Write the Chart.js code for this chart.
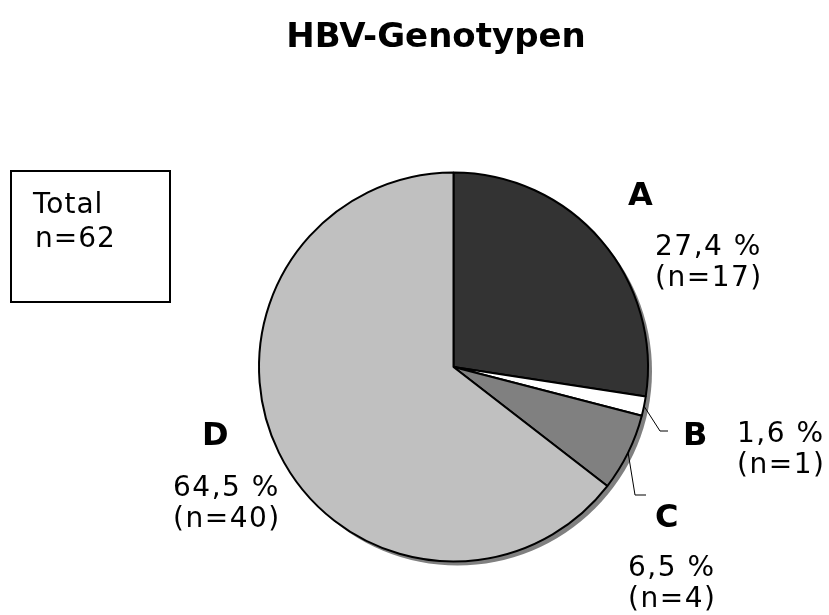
<!DOCTYPE html>
<html>
<head>
<meta charset="utf-8">
<script src="https://cdn.jsdelivr.net/npm/chart.js@4"></script>
<style>
  body { margin: 0; background: #fff; }
  #wrap { width: 829px; height: 615px; }
</style>
</head>
<body>
<div id="wrap"><canvas id="genoChart"></canvas></div>
<script>
// --- Data ---
const genotypes = ['A', 'B', 'C', 'D'];
const counts = [17, 1, 4, 40];
const percents = ['27,4 %', '1,6 %', '6,5 %', '64,5 %'];
const countLabels = ['(n=17)', '(n=1)', '(n=4)', '(n=40)'];
const sliceColors = ['#333333', '#ffffff', '#808080', '#c0c0c0'];
const totalLines = ['Total', 'n=62'];

// label placement (pixels): letter, text block, leader line end (null = no leader)
const labelPos = [
    { letter: [628, 205], text: [655, 255], leader: null },
    { letter: [683, 445], text: [737, 442], leader: [[660, 431], [668, 431]] },
    { letter: [655, 527], text: [628, 576], leader: [[635, 495], [646, 495]] },
    { letter: [202, 445], text: [173, 496], leader: null }
];

const font = 'DejaVu Sans';

// shadow under the pie
const shadowPlugin = {
    id: 'pieShadow',
    beforeDatasetsDraw(chart) {
        const arc = chart.getDatasetMeta(0).data[0];
        const ctx = chart.ctx;
        ctx.save();
        ctx.fillStyle = '#808080';
        ctx.beginPath();
        ctx.arc(arc.x + 4, arc.y + 4, arc.outerRadius, 0, Math.PI * 2);
        ctx.fill();
        ctx.restore();
    }
};

// labels, leader lines, title and total box
const labelPlugin = {
    id: 'pieLabels',
    afterDraw(chart) {
        const ctx = chart.ctx;
        const arcs = chart.getDatasetMeta(0).data;
        ctx.save();
        ctx.textBaseline = 'alphabetic';
        ctx.fillStyle = '#000';

        // title
        ctx.font = `bold 34px "${font}"`;
        ctx.textAlign = 'center';
        ctx.fillText('HBV-Genotypen', 436, 47);

        ctx.textAlign = 'left';
        genotypes.forEach((g, i) => {
            const p = labelPos[i];
            const arc = arcs[i];
            if (p.leader) {
                const mid = (arc.startAngle + arc.endAngle) / 2;
                const sx = arc.x + Math.cos(mid) * arc.outerRadius;
                const sy = arc.y + Math.sin(mid) * arc.outerRadius;
                ctx.strokeStyle = '#000';
                ctx.lineWidth = 1;
                ctx.beginPath();
                ctx.moveTo(sx, sy);
                p.leader.forEach(pt => ctx.lineTo(pt[0], pt[1]));
                ctx.stroke();
            }
            ctx.font = `bold 32px "${font}"`;
            ctx.letterSpacing = '0px';
            ctx.fillText(g, p.letter[0], p.letter[1]);
            ctx.font = `28px "${font}"`;
            ctx.letterSpacing = '1.5px';
            ctx.fillText(percents[i], p.text[0], p.text[1]);
            ctx.fillText(countLabels[i], p.text[0], p.text[1] + 31);
        });

        // total box
        ctx.strokeStyle = '#000';
        ctx.lineWidth = 2;
        ctx.strokeRect(11, 171, 159, 131);
        ctx.font = `28px "${font}"`;
        ctx.letterSpacing = '1px';
        ctx.fillText(totalLines[0], 33, 213);
        ctx.fillText(totalLines[1], 35, 247);
        ctx.restore();
    }
};

new Chart(document.getElementById('genoChart').getContext('2d'), {
    type: 'pie',
    data: {
        labels: genotypes,
        datasets: [{
            data: counts,
            backgroundColor: sliceColors,
            borderColor: '#000000',
            borderWidth: 2
        }]
    },
    options: {
        responsive: true,
        maintainAspectRatio: false,
        animation: false,
        layout: { padding: { left: 258, right: 180, top: 171, bottom: 52 } },
        plugins: {
            legend: { display: false },
            tooltip: { enabled: false },
            title: { display: false }
        }
    },
    plugins: [shadowPlugin, labelPlugin]
});
</script>
</body>
</html>
